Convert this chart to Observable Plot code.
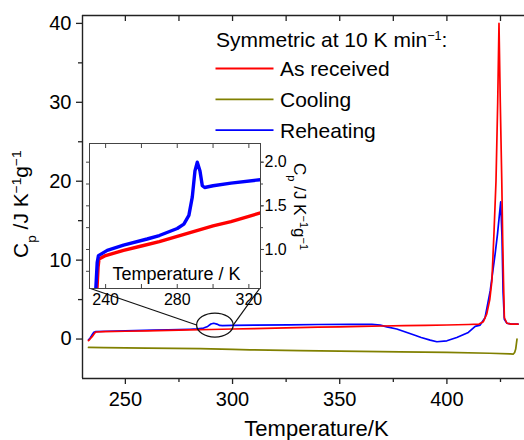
<!DOCTYPE html>
<html><head><meta charset="utf-8">
<script src="https://cdn.jsdelivr.net/npm/d3@7"></script>
<script src="https://cdn.jsdelivr.net/npm/@observablehq/plot@0.6"></script>
<style>
body{margin:0;background:#fff;}
#wrap{position:relative;width:524px;height:440px;font-family:"Liberation Sans",Arial,Helvetica,sans-serif;}
#wrap svg{overflow:visible;position:absolute;}
</style></head><body><div id="wrap"></div>
<script>
// ---- data ----
const seriesNames = ["As received", "Cooling", "Reheating"];
const seriesColors = ["#ff0000", "#808000", "#0000ff"];
const legendTitle = "Symmetric at 10 K min";

const redT  = [232.8, 233.5, 234.5, 235.3, 235.8, 236.3, 240, 250, 260, 270, 280, 290, 300, 310, 320, 330, 340, 350, 360, 370, 380, 390, 400, 410, 415, 417, 418.6, 420, 421, 422, 422.9, 423.7, 424.3, 424.9, 425.6, 426, 426.4, 426.8, 428, 430, 433.2];
const redCp = [-0.2, 0.0, 0.3, 0.6, 0.8, 0.89, 0.93, 0.99, 1.04, 1.09, 1.15, 1.21, 1.27, 1.32, 1.38, 1.44, 1.50, 1.55, 1.60, 1.65, 1.70, 1.74, 1.78, 1.84, 1.9, 2.2, 3.2, 5.0, 7.4, 13.7, 20, 30, 40, 30, 20, 13, 7.4, 2.7, 2.0, 1.9, 1.9];

const blueT  = [232.8, 233.5, 234.4, 235.3, 236, 240.9, 250, 263.2, 270, 280, 283.7, 286.5, 288.4, 289.9, 291.2, 292.7, 294, 295.3, 300, 310, 326.5, 340, 355, 365, 368.9, 372, 376.6, 380, 384.4, 388, 392.2, 395.3, 400, 404.6, 410, 413.2, 415.5, 417.8, 420.2, 422.5, 423.6, 425.1, 425.7, 426.2, 426.8, 428, 430, 433.2];
const blueCp = [-0.1, 0.1, 0.5, 0.85, 0.93, 0.99, 1.05, 1.12, 1.16, 1.24, 1.29, 1.39, 1.6, 1.9, 2.0, 1.9, 1.73, 1.71, 1.73, 1.76, 1.8, 1.84, 1.86, 1.85, 1.77, 1.55, 1.27, 0.95, 0.54, 0.2, -0.13, -0.34, -0.22, 0.2, 0.84, 1.6, 1.77, 2.7, 6.1, 10.8, 13.3, 17.4, 13, 6, 2.5, 2.0, 1.9, 1.9];

const oliveT  = [232.8, 240, 260, 284.9, 300, 308.2, 331.5, 350, 368.9, 378.2, 400, 420, 429.5, 431, 431.6, 432.1, 432.7];
const oliveCp = [-1.06, -1.08, -1.15, -1.22, -1.3, -1.36, -1.46, -1.52, -1.6, -1.62, -1.7, -1.8, -1.88, -1.9, -1.7, -1.27, 0.0];

const xMajor = [250, 300, 350, 400];
const xMinor = [275, 325, 375, 425];
const yMajor = [0, 10, 20, 30, 40];
const yMinor = [5, 15, 25, 35];

const insetXLabels = [240, 280, 320];
const insetXTicks = [240, 260, 280, 300, 320];
const insetYLabels = [1.0, 1.5, 2.0];
const insetYTicks = [0.75, 1.0, 1.25, 1.5, 1.75, 2.0];

const zoomCenter = [292, 1.71];   // circled region in main chart

// ---- tables ----
const red = redT.map((T, i) => ({T, cp: redCp[i]}));
const blue = blueT.map((T, i) => ({T, cp: blueCp[i]}));
const olive = oliveT.map((T, i) => ({T, cp: oliveCp[i]}));

const FONT = '"Liberation Sans", Arial, Helvetica, sans-serif';
const AX = "#222";
const blank = () => "";

const main = Plot.plot({
  width: 524, height: 440,
  marginLeft: 82, marginRight: 0, marginTop: 15, marginBottom: 62,
  x: {domain: [230, 436.2]},
  y: {domain: [-5, 41]},
  style: {fontFamily: FONT, color: "#000", background: "transparent", overflow: "visible"},
  marks: [
    Plot.ruleX([230], {stroke: AX, strokeWidth: 1.4}),
    Plot.ruleY([-5], {stroke: AX, strokeWidth: 1.4}),
    Plot.ruleY([41], {stroke: AX, strokeWidth: 1.4}),
    Plot.axisY(yMajor, {anchor: "left", tickSize: 6, tickPadding: 5, fontSize: 20, label: null, stroke: AX, strokeWidth: 1.3}),
    Plot.axisY(yMinor, {anchor: "left", tickSize: 4, tickFormat: blank, label: null, stroke: AX, strokeWidth: 1.3}),
    Plot.axisX(xMajor, {anchor: "bottom", tickSize: 6, tickPadding: 7, fontSize: 20, label: null, stroke: AX, strokeWidth: 1.3}),
    Plot.axisX(xMinor, {anchor: "bottom", tickSize: 4, tickFormat: blank, label: null, stroke: AX, strokeWidth: 1.3}),
    Plot.axisX([...xMajor, ...xMinor], {anchor: "top", tickSize: 5, insetTop: 5, tickFormat: blank, label: null, stroke: AX, strokeWidth: 1.3}),
    Plot.line(olive, {x: "T", y: "cp", stroke: seriesColors[1], strokeWidth: 1.7}),
    Plot.line(blue, {x: "T", y: "cp", stroke: seriesColors[2], strokeWidth: 1.7}),
    Plot.line(red, {x: "T", y: "cp", stroke: seriesColors[0], strokeWidth: 1.7})
  ]
});
main.style.left = "0px"; main.style.top = "0px";

const INX = 88, INY = 142;
const inset = Plot.plot({
  width: 222, height: 170,
  marginLeft: 1, marginTop: 1, marginRight: 50, marginBottom: 24,
  x: {domain: [231, 326.5]},
  y: {domain: [0.553, 2.214]},
  style: {fontFamily: FONT, color: "#000", background: "transparent", overflow: "visible"},
  marks: [
    Plot.frame({fill: "white", stroke: "#444", strokeWidth: 1}),
    Plot.axisY(insetYTicks, {anchor: "left", tickSize: 3, tickFormat: blank, label: null, stroke: "#444"}),
    Plot.axisY(insetYLabels, {anchor: "right", tickSize: 3, tickPadding: 1, fontSize: 16, tickFormat: d3.format(".1f"), label: null, stroke: "#444"}),
    Plot.axisY(insetYTicks, {anchor: "right", tickSize: 2, tickFormat: blank, label: null, stroke: "#444"}),
    Plot.axisX(insetXLabels, {anchor: "bottom", tickSize: 0, tickPadding: 5, fontSize: 16, label: null}),
    Plot.axisX(insetXTicks, {anchor: "bottom", tickSize: 4, insetBottom: 4, tickFormat: blank, label: null, stroke: "#444"}),
    Plot.axisX(insetXTicks, {anchor: "top", tickSize: 4, insetTop: 4, tickFormat: blank, label: null, stroke: "#444"}),
    Plot.line(red, {x: "T", y: "cp", stroke: seriesColors[0], strokeWidth: 3.4, clip: true}),
    Plot.line(blue, {x: "T", y: "cp", stroke: seriesColors[2], strokeWidth: 3.4, clip: true})
  ]
});
inset.style.left = INX + "px"; inset.style.top = INY + "px";

const wrap = document.getElementById("wrap");
wrap.appendChild(main);
wrap.appendChild(inset);

// ---- annotations on main svg ----
const ms = d3.select(main);
const sx = main.scale("x"), sy = main.scale("y");
const ix = inset.scale("x"), iy = inset.scale("y");
const cx = sx.apply(zoomCenter[0]), cy = sy.apply(zoomCenter[1]);
const rx = 18.3, ry = 12;
ms.append("ellipse").attr("cx", cx).attr("cy", cy).attr("rx", rx).attr("ry", ry)
  .attr("fill", "none").attr("stroke", "#111").attr("stroke-width", 1.3);
const blX = INX + ix.apply(231), brX = INX + ix.apply(326.5), bY = INY + iy.apply(0.553);
ms.append("line").attr("x1", blX).attr("y1", bY).attr("x2", cx - rx).attr("y2", cy)
  .attr("stroke", "#111").attr("stroke-width", 1.2);
ms.append("line").attr("x1", brX).attr("y1", bY).attr("x2", cx + rx).attr("y2", cy)
  .attr("stroke", "#111").attr("stroke-width", 1.2);

// axis labels
function cpLabel(sel) {
  sel.append("tspan").text("C");
  sel.append("tspan").attr("baseline-shift", "sub").attr("font-size", "65%").text("p");
  sel.append("tspan").text(" /J K");
  sel.append("tspan").attr("baseline-shift", "super").attr("font-size", "65%").text("\u22121");
  sel.append("tspan").text("g");
  sel.append("tspan").attr("baseline-shift", "super").attr("font-size", "65%").text("\u22121");
}
const yl = ms.append("text").attr("transform", "translate(28,258) rotate(-90)")
  .attr("text-anchor", "start")
  .attr("font-size", 21).attr("font-family", FONT).attr("fill", "#000");
cpLabel(yl);
ms.append("text").attr("x", 316.5).attr("y", 436).attr("text-anchor", "middle")
  .attr("font-size", 22).attr("font-family", FONT).attr("fill", "#000").text("Temperature/K");

// legend
const lt = ms.append("text").attr("x", 216).attr("y", 46.5).attr("font-size", 21)
  .attr("text-anchor", "start")
  .attr("font-family", FONT).attr("fill", "#000");
lt.append("tspan").text(legendTitle);
lt.append("tspan").attr("baseline-shift", "super").attr("font-size", "60%").text("\u22121");
lt.append("tspan").text(":");
seriesNames.forEach((name, i) => {
  const y = 68.5 + i * 30.8;
  ms.append("line").attr("x1", 215.5).attr("x2", 273.5).attr("y1", y).attr("y2", y)
    .attr("stroke", seriesColors[i]).attr("stroke-width", 1.8);
  ms.append("text").attr("x", 280).attr("y", y + 7.5).attr("font-size", 21)
    .attr("text-anchor", "start")
    .attr("font-family", FONT).attr("fill", "#000").text(name);
});

// inset labels
const is = d3.select(inset);
is.append("text").attr("x", 176.5 - INX).attr("y", 280 - INY).attr("text-anchor", "middle")
  .attr("font-size", 18).attr("font-family", FONT).attr("fill", "#000").text("Temperature / K");
const il = is.append("text").attr("transform", `translate(${293.5 - INX},${163 - INY}) rotate(90)`)
  .attr("text-anchor", "start")
  .attr("font-size", 17).attr("font-family", FONT).attr("fill", "#000");
cpLabel(il);
</script></body></html>
